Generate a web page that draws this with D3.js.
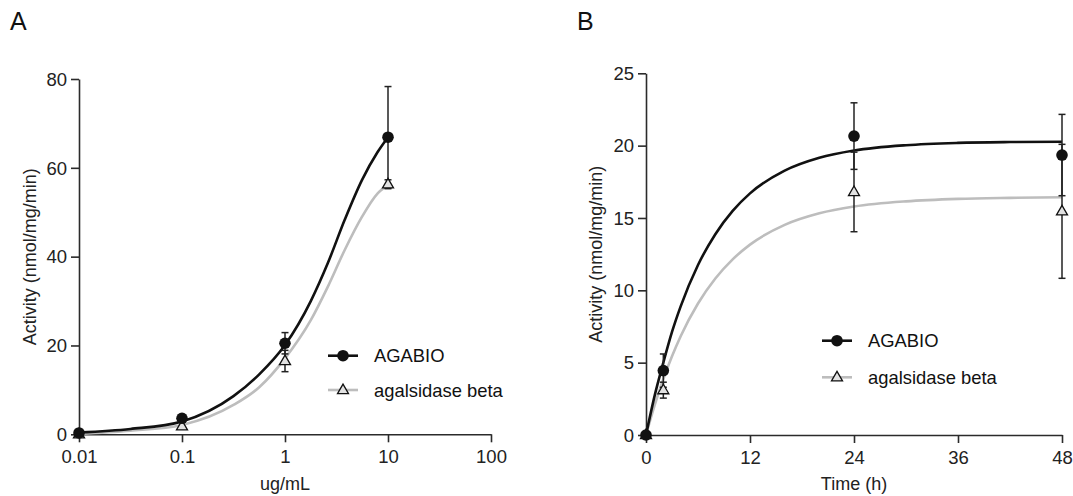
<!DOCTYPE html>
<html>
<head>
<meta charset="utf-8">
<script src="https://cdn.jsdelivr.net/npm/d3@7"></script>
<style>
  html, body { margin: 0; padding: 0; background: #fff; }
  svg { display: block; font-family: "Liberation Sans", Arial, Helvetica, sans-serif; }
</style>
</head>
<body>
<svg id="chart" width="1073" height="496"></svg>
<script>
// ---- Panel A: dose response (activity vs concentration) ----
const concA = [0.01, 0.1, 1, 10];
const agabioA = [0.3, 3.6, 20.5, 66.9];
const agabioA_sd = [0, 0, 2.4, 11.4];
const betaA = [0.0, 1.8, 16.5, 56.3];
const betaA_sd = [0, 0, 2.4, 1.0];

// fitted curves, sampled along the concentration axis
const fitConcA = [0.01, 0.0316, 0.1, 0.316, 0.562, 1, 1.78, 2.6, 3.8, 5.6, 7.9, 10];
const fitAgabioA = [0.4, 1.2, 2.9, 8.6, 13.5, 20.1, 30.0, 38.5, 48.3, 57.3, 63.5, 66.9];
const fitBetaA = [0.1, 0.8, 2.1, 6.6, 10.6, 17.1, 25.7, 33.2, 41.5, 49.0, 54.2, 56.1];

const xTicksA = [0.01, 0.1, 1, 10, 100];
const xTickLabelsA = ["0.01", "0.1", "1", "10", "100"];
const yTicksA = [0, 20, 40, 60, 80];

// ---- Panel B: time course ----
const timeB = [0, 2, 24, 48];
const agabioB = [0, 4.45, 20.66, 19.35];
const agabioB_sd = [0, 1.15, 2.3, 2.81];
const betaB = [0, 3.1, 16.8, 15.46];
const betaB_sd = [0, 0.55, 2.75, 4.63];

const fitTimeB = [0, 1, 2, 3, 4, 6, 8, 10, 12, 16, 20, 24, 30, 36, 42, 48];
const fitAgabioB = [0, 2.72, 5.0, 7.12, 8.89, 11.75, 13.88, 15.49, 16.7, 18.27, 19.16, 19.66, 20.03, 20.19, 20.25, 20.27];
const fitBetaB = [0, 2.06, 3.87, 5.44, 6.83, 9.09, 10.82, 12.14, 13.16, 14.52, 15.32, 15.79, 16.15, 16.32, 16.39, 16.43];

const xTicksB = [0, 12, 24, 36, 48];
const yTicksB = [0, 5, 10, 15, 20, 25];

const seriesNames = ["AGABIO", "agalsidase beta"];

const svg = d3.select("#chart");
const BLACK = "#111";
const GREY = "#bdbdbd";
const AXIS = "#2b2b2b";

function drawPanel(cfg) {
  const g = svg.append("g");
  const x = cfg.x, y = cfg.y;

  // axes
  const xAxis = d3.axisBottom(x).tickValues(cfg.xTicks).tickSize(8).tickSizeOuter(0)
    .tickFormat(cfg.xFormat);
  const yAxis = d3.axisLeft(y).tickValues(cfg.yTicks).tickSize(8).tickSizeOuter(0)
    .tickFormat(d3.format("d"));

  const gx = g.append("g").attr("transform", `translate(0,${y.range()[0]})`).call(xAxis);
  const gy = g.append("g").attr("transform", `translate(${x.range()[0]},0)`).call(yAxis);
  [gx, gy].forEach(a => {
    a.select(".domain").attr("stroke", AXIS).attr("stroke-width", 1.6);
    a.selectAll(".tick line").attr("stroke", AXIS).attr("stroke-width", 1.6);
    a.selectAll(".tick text").attr("fill", "#222").style("font-size", "18.5px")
      .style("font-family", "'Liberation Sans', Arial, sans-serif");
  });
  gx.selectAll(".tick text").attr("dy", "0").attr("y", 29);
  gy.selectAll(".tick text").attr("x", -12).attr("dy", "0.34em");

  // axis titles
  const yMid = (y.range()[0] + y.range()[1]) / 2;
  g.append("text")
    .attr("transform", `translate(${cfg.yTitleX},${yMid}) rotate(-90)`)
    .attr("text-anchor", "middle").attr("fill", "#222").style("font-size", "18px")
    .text("Activity (nmol/mg/min)");
  g.append("text")
    .attr("x", (x.range()[0] + x.range()[1]) / 2).attr("y", 490)
    .attr("text-anchor", "middle").attr("fill", "#222").style("font-size", "18px")
    .text(cfg.xTitle);

  // panel letter
  g.append("text").attr("x", cfg.letterX).attr("y", 30)
    .attr("fill", "#111").style("font-size", "25px").text(cfg.letter);

  // fitted curves
  const line = d3.line().x(d => x(d[0])).y(d => y(d[1])).curve(d3.curveMonotoneX);
  const fitBeta = cfg.fitX.map((v, i) => [v, cfg.fitBeta[i]]);
  const fitAgabio = cfg.fitX.map((v, i) => [v, cfg.fitAgabio[i]]);
  g.append("path").datum(fitBeta).attr("d", line).attr("fill", "none")
    .attr("stroke", GREY).attr("stroke-width", 2.6);
  g.append("path").datum(fitAgabio).attr("d", line).attr("fill", "none")
    .attr("stroke", BLACK).attr("stroke-width", 2.6);

  // error bars
  const bars = [];
  cfg.px.forEach((v, i) => {
    if (cfg.agabio_sd[i] > 0) bars.push([v, cfg.agabio[i], cfg.agabio_sd[i]]);
    if (cfg.beta_sd[i] > 0) bars.push([v, cfg.beta[i], cfg.beta_sd[i]]);
  });
  const eb = g.append("g").attr("stroke", "#222").attr("stroke-width", 1.5);
  bars.forEach(b => {
    const cx = x(b[0]);
    eb.append("line").attr("x1", cx).attr("x2", cx).attr("y1", y(b[1] - b[2])).attr("y2", y(b[1] + b[2]));
    eb.append("line").attr("x1", cx - 3.5).attr("x2", cx + 3.5).attr("y1", y(b[1] + b[2])).attr("y2", y(b[1] + b[2]));
    eb.append("line").attr("x1", cx - 3.5).attr("x2", cx + 3.5).attr("y1", y(b[1] - b[2])).attr("y2", y(b[1] - b[2]));
  });

  // markers
  cfg.px.forEach((v, i) => {
    drawTriangle(g, x(v), y(cfg.beta[i]));
  });
  cfg.px.forEach((v, i) => {
    g.append("circle").attr("cx", x(v)).attr("cy", y(cfg.agabio[i])).attr("r", 5.8).attr("fill", BLACK);
  });

  // legend
  const L = cfg.legend;
  [0, 1].forEach(k => {
    const ly = L.y + k * L.dy;
    g.append("line").attr("x1", L.x).attr("x2", L.x + 30).attr("y1", ly).attr("y2", ly)
      .attr("stroke", k === 0 ? BLACK : GREY).attr("stroke-width", 2.6);
    if (k === 0) g.append("circle").attr("cx", L.x + 15).attr("cy", ly).attr("r", 5.8).attr("fill", BLACK);
    else drawTriangle(g, L.x + 15, ly);
    g.append("text").attr("x", L.x + 46).attr("y", ly).attr("dy", "0.36em")
      .attr("fill", "#111").style("font-size", "18.4px").text(seriesNames[k]);
  });
}

function drawTriangle(g, cx, cy) {
  const s = 11;
  const h = s * Math.sqrt(3) / 2;
  const pts = [[cx, cy - h * 0.62], [cx - s / 2, cy + h * 0.38], [cx + s / 2, cy + h * 0.38]];
  g.append("polygon").attr("points", pts.map(p => p.join(",")).join(" "))
    .attr("fill", "#e2e2e2").attr("stroke", "#111").attr("stroke-width", 1.3);
}

drawPanel({
  letter: "A", letterX: 10,
  x: d3.scaleLog().domain([0.01, 100]).range([79, 491]),
  y: d3.scaleLinear().domain([0, 80]).range([434.3, 79]),
  xTicks: xTicksA, xFormat: d => xTickLabelsA[xTicksA.indexOf(d)],
  yTicks: yTicksA,
  xTitle: "ug/mL", yTitleX: 35.5,
  px: concA, agabio: agabioA, agabio_sd: agabioA_sd, beta: betaA, beta_sd: betaA_sd,
  fitX: fitConcA, fitAgabio: fitAgabioA, fitBeta: fitBetaA,
  legend: { x: 328, y: 355.7, dy: 34.3 }
});

drawPanel({
  letter: "B", letterX: 577,
  x: d3.scaleLinear().domain([0, 48]).range([646, 1062]),
  y: d3.scaleLinear().domain([0, 25]).range([435, 73.3]),
  xTicks: xTicksB, xFormat: d3.format("d"),
  yTicks: yTicksB,
  xTitle: "Time (h)", yTitleX: 602,
  px: timeB, agabio: agabioB, agabio_sd: agabioB_sd, beta: betaB, beta_sd: betaB_sd,
  fitX: fitTimeB, fitAgabio: fitAgabioB, fitBeta: fitBetaB,
  legend: { x: 822, y: 340.7, dy: 36.6 }
});
</script>
</body>
</html>
